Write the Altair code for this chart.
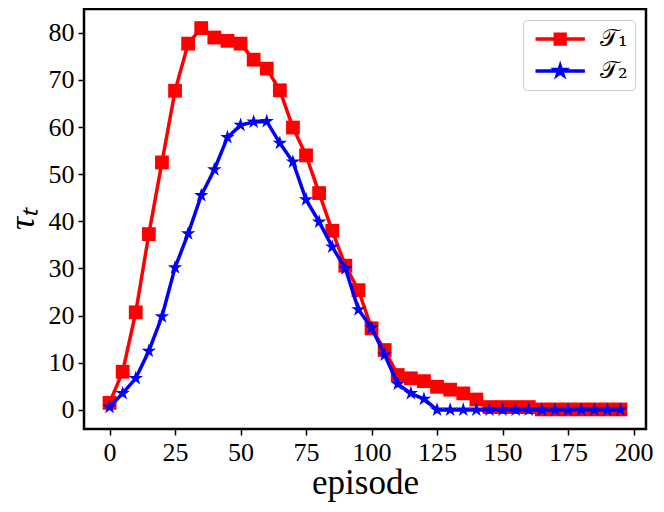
import altair as alt
import pandas as pd

# ---- data ----
episodes = list(range(0, 200, 5))
tau1 = [1.5, 8.1, 20.7, 37.3, 52.5, 67.7, 77.7, 81.0, 79.0, 78.3,
        77.7, 74.3, 72.4, 67.8, 59.9, 54.0, 46.0, 38.0, 30.6, 25.4,
        17.3, 12.7, 7.4, 6.7, 6.1, 4.9, 4.3, 3.5, 2.2, 0.6,
        0.6, 0.6, 0.6, 0.1, 0.1, 0.1, 0.1, 0.1, 0.1, 0.1]
tau2 = [0.6, 3.5, 6.7, 12.5, 19.8, 30.2, 37.4, 45.5, 51.0, 57.8,
        60.4, 61.1, 61.2, 56.6, 52.6, 44.6, 39.9, 34.6, 30.0, 21.3,
        17.4, 11.7, 5.5, 3.5, 2.3, 0.0, 0.0, 0.0, 0.0, 0.0,
        0.0, 0.0, 0.0, 0.0, 0.0, 0.0, 0.0, 0.0, 0.0, 0.0]
series_names = ["𝒯₁", "𝒯₂"]
series_colors = ["#ff0000", "#0000ff"]
x_ticks = [0, 25, 50, 75, 100, 125, 150, 175, 200]
y_ticks = [0, 10, 20, 30, 40, 50, 60, 70, 80]

STAR = ("M0,-1L0.2245,-0.309L0.951,-0.309L0.363,0.118L0.588,0.809L0,0.382"
        "L-0.588,0.809L-0.363,0.118L-0.951,-0.309L-0.2245,-0.309Z")
series_shapes = ["square", STAR]
series_sizes = [190, 230]
LEG_SQUARE = "M-1,0H6.6M2.05,-0.75H3.55V0.75H2.05Z"
LEG_STAR = ("M-1,0H6.6M2.8,-0.75L2.968,-0.232L3.513,-0.232L3.072,0.089L3.241,0.607"
            "L2.8,0.287L2.359,0.607L2.528,0.089L2.087,-0.232L2.632,-0.232Z")

df = pd.DataFrame({
    "episode": episodes * 2,
    "tau": tau1 + tau2,
    "series": [series_names[0]] * len(episodes) + [series_names[1]] * len(episodes),
})

FONT = "Liberation Serif"
TFONT = "Liberation Serif"

x_enc = alt.X("episode:Q",
              scale=alt.Scale(domain=[-9.75, 204.75], nice=False, zero=False),
              axis=alt.Axis(values=x_ticks, title="episode",
                            labelFont=FONT, labelFontSize=26, titleFont=TFONT,
                            titleFontSize=35, titlePadding=0))
y_enc = alt.Y("tau:Q",
              scale=alt.Scale(domain=[-4.05, 85.05], nice=False, zero=False),
              axis=alt.Axis(values=y_ticks, title="τₜ",
                            labelFont=FONT, labelFontSize=26, titleFont=TFONT,
                            titleFontSize=36, titleFontStyle="italic", titlePadding=7))

layers = []
for name, col, shp, sz in zip(series_names, series_colors, series_shapes, series_sizes):
    base = alt.Chart(df).transform_filter(alt.datum.series == name)
    line = base.mark_line(strokeWidth=3.5, color=col).encode(x=x_enc, y=y_enc)
    pts = base.mark_point(filled=True, size=sz, opacity=1, strokeWidth=0,
                          color=col, shape=shp).encode(x=x_enc, y=y_enc)
    layers += [line, pts]

# legend-only layer (no rows drawn), scales carry explicit domains
legend = alt.Legend(
    title=None, orient="top-right", offset=11, padding=7, cornerRadius=4,
    strokeColor="#cccccc", fillColor="white",
    labelFont="DejaVu Serif", labelFontSize=24, labelColor="black",
    labelOffset=46, rowPadding=8, symbolSize=169, symbolStrokeWidth=3.5,
    symbolOpacity=1,
)
color_scale = alt.Scale(domain=series_names, range=series_colors)
leg_shape_scale = alt.Scale(domain=series_names, range=[LEG_SQUARE, LEG_STAR])
leg_layer = alt.Chart(df).transform_filter("false").mark_point(
    filled=True, strokeWidth=3.5, opacity=1, size=169
).encode(
    x=x_enc, y=y_enc,
    fill=alt.Fill("series:N", scale=color_scale, legend=legend),
    stroke=alt.Stroke("series:N", scale=color_scale, legend=legend),
    shape=alt.Shape("series:N", scale=leg_shape_scale, legend=legend),
)
layers.append(leg_layer)

chart = alt.layer(*layers).properties(
    width=562, height=420,
    autosize=alt.AutoSizeParams(type="none"),
    padding={"left": 76, "top": 1, "right": 8, "bottom": 80},
).configure_view(
    stroke="black", strokeWidth=2.5,
).configure_axis(
    grid=False, domain=False,
    tickColor="black", tickWidth=1.5, tickSize=6,
    labelFont=FONT, labelFontSize=26, labelColor="black", labelPadding=4,
    titleFont=TFONT, titleFontWeight="normal", titleColor="black",
)

chart.save("out.html", embed_options={"renderer": "svg", "actions": False})
